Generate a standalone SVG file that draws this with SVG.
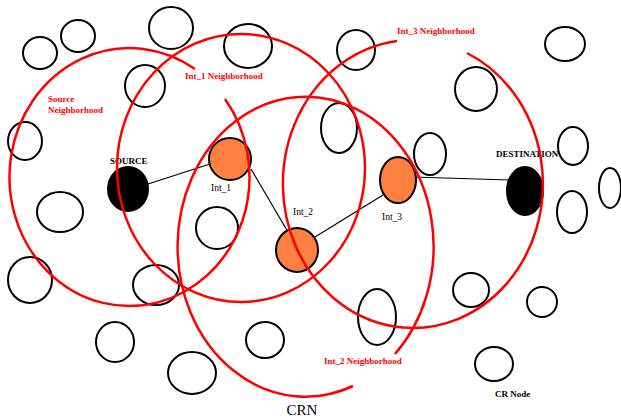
<svg xmlns="http://www.w3.org/2000/svg" width="621" height="419" viewBox="0 0 621 419">
<style>
.n{fill:none;stroke:#000;stroke-width:2}
.s{fill:#000;stroke:#000;stroke-width:2}
.o{fill:#FF8040;stroke:#000;stroke-width:2}
.l{stroke:#000;stroke-width:1.2;fill:none}
.r{fill:none;stroke:#FF0000;stroke-width:2.5}
.rt{font-family:"Liberation Serif","Times New Roman",serif;font-weight:bold;font-size:9px;fill:#FF0000}
.bt{font-family:"Liberation Serif","Times New Roman",serif;font-weight:bold;font-size:9px;fill:#000}
.it{font-family:"Liberation Serif","Times New Roman",serif;font-size:9.5px;fill:#000}
.ct{font-family:"Liberation Serif","Times New Roman",serif;font-size:15px;fill:#000}
</style>
<rect width="621" height="419" fill="#fff"/>
<g id="cr-nodes">
<g id="cr1"><ellipse class="n" cx="40" cy="53" rx="17" ry="16"/></g>
<g id="cr2"><ellipse class="n" cx="78" cy="36" rx="17" ry="16"/></g>
<g id="cr3"><ellipse class="n" cx="171" cy="28" rx="22" ry="21"/></g>
<g id="cr4"><ellipse class="n" cx="145" cy="86" rx="20" ry="21"/></g>
<g id="cr5"><ellipse class="n" cx="25" cy="141" rx="17" ry="19"/></g>
<g id="cr6"><ellipse class="n" cx="248" cy="46" rx="24" ry="22"/></g>
<g id="cr7"><ellipse class="n" cx="356" cy="50" rx="19" ry="20"/></g>
<g id="cr8"><ellipse class="n" cx="339" cy="128" rx="18" ry="25"/></g>
<g id="cr9"><ellipse class="n" cx="565" cy="44" rx="20" ry="17"/></g>
<g id="cr10"><ellipse class="n" cx="476" cy="89" rx="21" ry="22"/></g>
<g id="cr11"><ellipse class="n" cx="430" cy="154" rx="16" ry="21"/></g>
<g id="cr12"><ellipse class="n" cx="573" cy="146" rx="15" ry="19"/></g>
<g id="cr13"><ellipse class="n" cx="60" cy="212" rx="23" ry="20"/></g>
<g id="cr14"><ellipse class="n" cx="217" cy="228" rx="21" ry="21"/></g>
<g id="cr15"><ellipse class="n" cx="30" cy="280" rx="22" ry="23"/></g>
<g id="cr16"><ellipse class="n" cx="156" cy="285" rx="23" ry="20"/></g>
<g id="cr17"><ellipse class="n" cx="572" cy="212" rx="15" ry="21"/></g>
<g id="cr18"><ellipse class="n" cx="610" cy="188" rx="11" ry="20"/></g>
<g id="cr19"><ellipse class="n" cx="471" cy="290" rx="18" ry="17"/></g>
<g id="cr20"><ellipse class="n" cx="542" cy="302" rx="15" ry="15"/></g>
<g id="cr21"><ellipse class="n" cx="494" cy="364" rx="19" ry="17"/></g>
<g id="cr22"><ellipse class="n" cx="115" cy="342" rx="19" ry="20"/></g>
<g id="cr23"><ellipse class="n" cx="192" cy="373" rx="24" ry="21"/></g>
<g id="cr24"><ellipse class="n" cx="265" cy="340" rx="19" ry="18"/></g>
<g id="cr25"><ellipse class="n" cx="377" cy="317" rx="19" ry="28"/></g>
</g>
<g id="connectors">
<line class="l" x1="148" y1="184" x2="210" y2="164"/>
<line class="l" x1="251" y1="169" x2="288" y2="232"/>
<line class="l" x1="315" y1="237" x2="383" y2="195"/>
<line class="l" x1="412" y1="177" x2="510" y2="180"/>
</g>
<g id="source"><ellipse class="s" cx="128" cy="189" rx="20" ry="22"/><text class="bt" x="110" y="164">SOURCE</text></g>
<g id="int1"><ellipse class="o" cx="230" cy="159" rx="21" ry="21"/><text class="it" x="211" y="191">Int_1</text></g>
<g id="int2"><ellipse class="o" cx="297" cy="250" rx="21" ry="22"/><text class="it" x="293" y="215">Int_2</text></g>
<g id="int3"><ellipse class="o" cx="398" cy="180" rx="18" ry="23"/><text class="it" x="382" y="220">Int_3</text></g>
<g id="destination"><ellipse class="s" cx="525" cy="191" rx="18" ry="24"/><text class="bt" x="496" y="157">DESTINATION</text></g>
<g id="neighborhoods">
<path class="r" d="M195,69 A120,129 0 1 0 225,99"/>
<ellipse class="r" cx="241" cy="168" rx="124" ry="134"/>
<path class="r" d="M353,386 A128,150 0 1 1 395,354"/>
<path class="r" d="M397,41 A130,144 0 1 0 467,53"/>
<text class="rt" x="48" y="102">Source</text>
<text class="rt" x="48" y="113">Neighborhood</text>
<text class="rt" x="185" y="79">Int_1 Neighborhood</text>
<text class="rt" x="397" y="34">Int_3 Neighborhood</text>
<text class="rt" x="324" y="364">Int_2 Neighborhood</text>
</g>
<g id="legend">
<text class="bt" x="495" y="397">CR Node</text>
<text class="ct" x="302" y="415" text-anchor="middle">CRN</text>
</g>
</svg>
